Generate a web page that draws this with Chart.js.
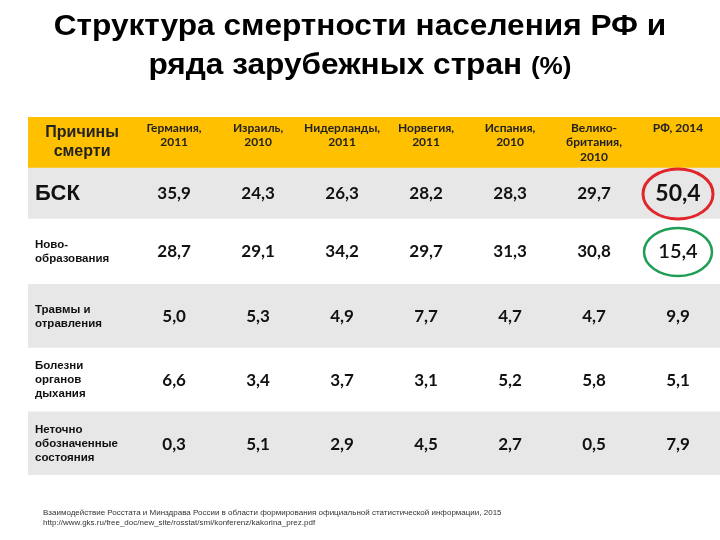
<!DOCTYPE html>
<html><head><meta charset="utf-8">
<script src="https://cdn.jsdelivr.net/npm/chart.js@4.4.1/dist/chart.umd.min.js"></script>
<style>
html,body{margin:0;padding:0;background:#fff;}
#wrap{position:relative;width:720px;height:540px;overflow:hidden;}
canvas{position:absolute;left:0;top:0;}
#title{position:absolute;left:0;top:6px;width:720px;text-align:center;font-family:"Liberation Sans",Arial,sans-serif;font-weight:bold;font-size:29px;line-height:39px;color:#000;transform:scaleX(1.09);transform-origin:360px 0;}
#title .pct{font-size:24px;}
#note{position:absolute;left:43px;top:508px;font-family:"Liberation Sans",Arial,sans-serif;font-size:8px;line-height:10px;color:#333;white-space:nowrap;}
</style></head>
<body><div id="wrap"><canvas id="c" width="720" height="540"></canvas>
<div id="title">Структура смертности населения РФ и<br>ряда зарубежных стран <span class="pct">(%)</span></div>
<div id="note">Взаимодействие Росстата и Минздрава России в области формирования официальной статистической информации, 2015<br>http://www.gks.ru/free_doc/new_site/rosstat/smi/konferenz/kakorina_prez.pdf</div>
</div>
<script>
// ---- data ----
const headerLabel = ["Причины", "смерти"];
const countries = [["Германия,", "2011"], ["Израиль,", "2010"], ["Нидерланды,", "2011"], ["Норвегия,", "2011"], ["Испания,", "2010"], ["Велико-", "британия,", "2010"], ["РФ, 2014"]];
const causes = [["БСК"], ["Ново-", "образования"], ["Травмы и", "отравления"], ["Болезни", "органов", "дыхания"], ["Неточно", "обозначенные", "состояния"]];
const bsk = [35.9, 24.3, 26.3, 28.2, 28.3, 29.7, 50.4];
const neoplasms = [28.7, 29.1, 34.2, 29.7, 31.3, 30.8, 15.4];
const injuries = [5.0, 5.3, 4.9, 7.7, 4.7, 4.7, 9.9];
const respiratory = [6.6, 3.4, 3.7, 3.1, 5.2, 5.8, 5.1];
const illDefined = [0.3, 5.1, 2.9, 4.5, 2.7, 0.5, 7.9];
const rowsValues = [bsk, neoplasms, injuries, respiratory, illDefined];

// ---- table layout (relative units) ----
const rowWeights = [0.79, 0.8, 1.02, 1, 1, 1];
const colWeights = [1.24, 1, 1, 1, 1, 1, 1, 1];
const rowColors = ["#FFC000", "#E7E7E7", "#FFFFFF", "#E7E7E7", "#FFFFFF", "#E7E7E7"];
const totalRows = rowWeights.reduce((a, b) => a + b, 0);
const totalCols = colWeights.reduce((a, b) => a + b, 0);
const rowStart = rowWeights.map((w, i) => rowWeights.slice(0, i).reduce((a, b) => a + b, 0));
const colStart = colWeights.map((w, i) => colWeights.slice(0, i).reduce((a, b) => a + b, 0));
const fmt = v => v.toFixed(1).replace('.', ',');

const datasets = rowWeights.map((w, i) => ({
  data: [w], backgroundColor: rowColors[i], borderWidth: 0,
  barPercentage: 1, categoryPercentage: 1, stack: 't', xAxisID: 'x', yAxisID: 'y'
}));

const tablePlugin = {
  id: 'tableText',
  afterDatasetsDraw(chart) {
    const ctx = chart.ctx;
    const xs = chart.scales.col, ys = chart.scales.y;
    const colCenter = i => xs.getPixelForValue(colStart[i] + colWeights[i] / 2);
    const colLeft = i => xs.getPixelForValue(colStart[i]);
    const rowCenter = r => ys.getPixelForValue(rowStart[r] + rowWeights[r] / 2);
    const rowTop = r => ys.getPixelForValue(rowStart[r]);
    ctx.save();
    ctx.textBaseline = 'middle';
    // header first column
    ctx.fillStyle = '#222';
    ctx.textAlign = 'center';
    ctx.font = 'bold 16px "Liberation Sans", Arial, sans-serif';
    headerLabel.forEach((t, k) => ctx.fillText(t, colCenter(0) + 2, rowCenter(0) + (k - 0.5) * 19));
    // country headers
    ctx.font = 'bold 12px Lato, "Open Sans", sans-serif';
    countries.forEach((lines, c) => {
      lines.forEach((t, k) => ctx.fillText(t, colCenter(c + 1), rowTop(0) + 11 + k * 14.5));
    });
    // row labels
    causes.forEach((lines, r) => {
      ctx.textAlign = 'left';
      ctx.fillStyle = '#111';
      if (r === 0) {
        ctx.font = 'bold 22px "Liberation Sans", Arial, sans-serif';
        ctx.fillText(lines[0], colLeft(0) + 7, rowCenter(1) + 1);
      } else {
        ctx.font = 'bold 11.5px "Liberation Sans", Arial, sans-serif';
        const n = lines.length;
        lines.forEach((t, k) => ctx.fillText(t, colLeft(0) + 7, rowCenter(r + 1) + 1 + (k - (n - 1) / 2) * 14));
      }
    });
    // values
    ctx.textAlign = 'center';
    ctx.fillStyle = '#111';
    rowsValues.forEach((vals, r) => {
      vals.forEach((v, c) => {
        const isRF = c === vals.length - 1;
        if (isRF && r === 0) ctx.font = 'bold 23px Lato, sans-serif';
        else if (isRF && r === 1) ctx.font = '600 20px Lato, sans-serif';
        else ctx.font = 'bold 17px Lato, sans-serif';
        ctx.fillText(fmt(v), colCenter(c + 1), rowCenter(r + 1) + 1);
      });
    });
    // highlight ellipses
    const rf = colCenter(countries.length);
    ctx.lineWidth = 3;
    ctx.strokeStyle = '#E0262B';
    ctx.beginPath();
    ctx.ellipse(rf, rowCenter(1) + 1, 35, 25, 0, 0, Math.PI * 2);
    ctx.stroke();
    ctx.lineWidth = 2.5;
    ctx.strokeStyle = '#1E9E55';
    ctx.beginPath();
    ctx.ellipse(rf, rowCenter(2) + 1, 34, 24, 0, 0, Math.PI * 2);
    ctx.stroke();
    ctx.restore();
  }
};

new Chart(document.getElementById('c'), {
  type: 'bar',
  data: { labels: ['table'], datasets },
  options: {
    responsive: false, animation: false, devicePixelRatio: 1,
    layout: { padding: { left: 28, right: 0, top: 117, bottom: 65 } },
    plugins: { legend: { display: false }, tooltip: { enabled: false }, title: { display: false } },
    scales: {
      x: { display: false, stacked: true },
      col: { type: 'linear', display: false, offset: false, grace: 0, min: 0, max: totalCols, position: 'bottom' },
      y: { display: false, stacked: true, reverse: true, min: 0, max: totalRows }
    }
  },
  plugins: [tablePlugin]
});
</script>
</body></html>
